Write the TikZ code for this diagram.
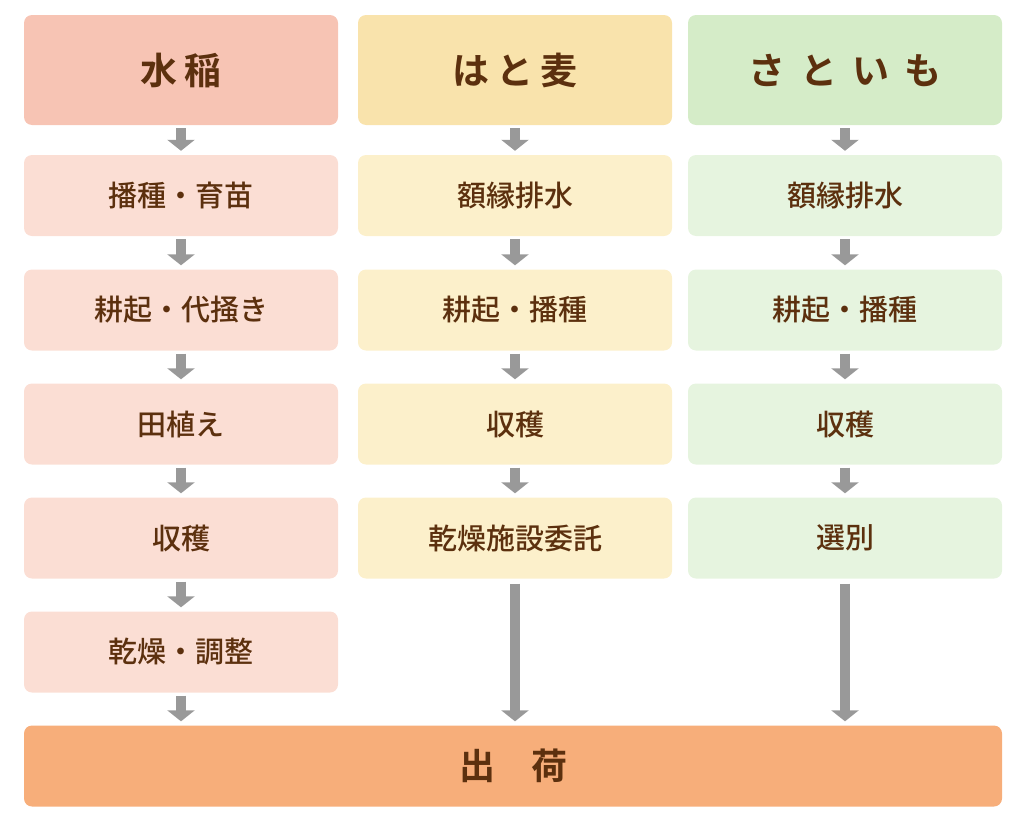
\documentclass[tikz,border=0pt]{standalone}
\usepackage{fontspec}
\newfontfamily\jp{Noto Sans CJK JP Medium}[BoldFont={Noto Sans CJK JP Bold}]
\usetikzlibrary{arrows.meta,calc}
\definecolor{inebg}{HTML}{F7C4B4}
\definecolor{inestep}{HTML}{FBDED4}
\definecolor{hatobg}{HTML}{F9E3AC}
\definecolor{hatostep}{HTML}{FCF0CB}
\definecolor{satobg}{HTML}{D5ECC8}
\definecolor{satostep}{HTML}{E6F4DF}
\definecolor{shukkabg}{HTML}{F7AE7A}
\definecolor{textbrown}{HTML}{5C300E}
\definecolor{arrowgray}{HTML}{999999}
\tikzset{
  box/.style={rounded corners=8pt, minimum width=314pt, minimum height=81pt,
    inner sep=0pt, text=textbrown, font=\jp\fontsize{29}{32}\selectfont},
  head/.style={box, minimum height=110pt, font=\jp\bfseries\fontsize{37}{40}\selectfont},
  flow/.style={arrowgray, line width=10pt,
    -{Triangle[width=27pt,length=11pt]}, shorten <=3pt, shorten >=4pt},
}
\begin{document}
\begin{tikzpicture}[x=1pt,y=-1pt]
  \useasboundingbox (0,0) rectangle (1022,827);
  % columns
  \node[head, fill=inebg] (i0) at (181,70) {水\hspace{0.2em}稲};
  \node[box, fill=inestep] (i1) at (181,195.5) {播種・育苗};
  \node[box, fill=inestep] (i2) at (181,310) {耕起・代掻き};
  \node[box, fill=inestep] (i3) at (181,424) {田植え};
  \node[box, fill=inestep] (i4) at (181,538) {収穫};
  \node[box, fill=inestep] (i5) at (181,652) {乾燥・調整};

  \node[head, fill=hatobg] (h0) at (515,70) {は\hspace{0.2em}と\hspace{0.2em}麦};
  \node[box, fill=hatostep] (h1) at (515,195.5) {額縁排水};
  \node[box, fill=hatostep] (h2) at (515,310) {耕起・播種};
  \node[box, fill=hatostep] (h3) at (515,424) {収穫};
  \node[box, fill=hatostep] (h4) at (515,538) {乾燥施設委託};

  \node[head, fill=satobg] (s0) at (845,70) {さ\hspace{0.4em}と\hspace{0.4em}い\hspace{0.4em}も};
  \node[box, fill=satostep] (s1) at (845,195.5) {額縁排水};
  \node[box, fill=satostep] (s2) at (845,310) {耕起・播種};
  \node[box, fill=satostep] (s3) at (845,424) {収穫};
  \node[box, fill=satostep] (s4) at (845,538) {選別};

  \node[box, fill=shukkabg, minimum width=978pt, font=\jp\bfseries\fontsize{36}{40}\selectfont] (out) at (513,766) {出\hspace{1em}荷};

  % arrows
  \draw[flow] (i0) -- (i1);
  \draw[flow] (i1) -- (i2);
  \draw[flow] (i2) -- (i3);
  \draw[flow] (i3) -- (i4);
  \draw[flow] (i4) -- (i5);
  \draw[flow] (i5.south) -- (i5.south |- out.north);
  \draw[flow] (h0) -- (h1);
  \draw[flow] (h1) -- (h2);
  \draw[flow] (h2) -- (h3);
  \draw[flow] (h3) -- (h4);
  \draw[flow, shorten <=5pt] (h4.south) -- (h4.south |- out.north);
  \draw[flow] (s0) -- (s1);
  \draw[flow] (s1) -- (s2);
  \draw[flow] (s2) -- (s3);
  \draw[flow] (s3) -- (s4);
  \draw[flow, shorten <=5pt] (s4.south) -- (s4.south |- out.north);
\end{tikzpicture}
\end{document}
